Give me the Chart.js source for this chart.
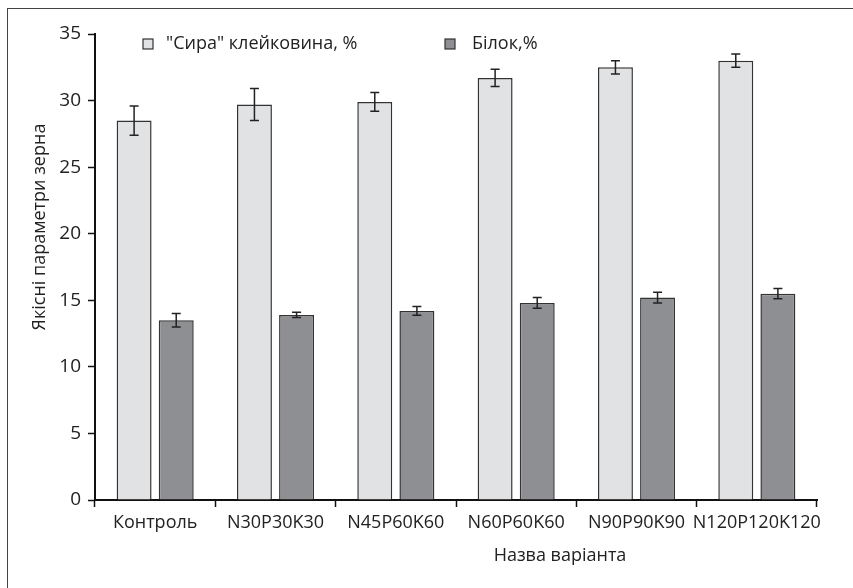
<!DOCTYPE html>
<html lang="uk">
<head>
<meta charset="UTF-8">
<title>Якісні параметри зерна</title>
<script src="https://cdn.jsdelivr.net/npm/chart.js"></script>
<style>
    body { margin: 0; padding: 0; background: #fff; }
    .frame {
        position: absolute;
        left: 7px; top: 8px;
        width: 850px; height: 600px;
        border: 1px solid #444;
    }
    #chart { position: absolute; left: 0; top: 0; }
</style>
</head>
<body>
<div class="frame"></div>
<canvas id="chart" width="853" height="588"></canvas>
<script>
const categories = ['Контроль', 'N30P30K30', 'N45P60K60', 'N60P60K60', 'N90P90K90', 'N120P120K120'];
const glutenValues = [28.5, 29.7, 29.9, 31.7, 32.5, 33.0];
const glutenErrors = [1.1, 1.2, 0.7, 0.65, 0.5, 0.5];
const proteinValues = [13.5, 13.9, 14.2, 14.8, 15.2, 15.5];
const proteinErrors = [0.5, 0.2, 0.33, 0.4, 0.4, 0.38];
const seriesNames = ['"Сира" клейковина, %', 'Білок,%'];
const yTitle = 'Якісні параметри зерна';
const xTitle = 'Назва варіанта';

const FONT = "'Open Sans', sans-serif";
const lightFill = '#e1e2e4';
const darkFill = '#8e8f93';
const edge = '#333333';

const errorBars = {
    id: 'errorBars',
    afterDatasetsDraw(chart) {
        const ctx = chart.ctx;
        const y = chart.scales.y;
        ctx.save();
        ctx.strokeStyle = '#222';
        ctx.lineWidth = 1.5;
        chart.data.datasets.forEach((ds, i) => {
            const meta = chart.getDatasetMeta(i);
            meta.data.forEach((bar, j) => {
                const v = ds.data[j], e = ds.errors[j];
                const top = y.getPixelForValue(v + e);
                const bot = y.getPixelForValue(v - e);
                ctx.beginPath();
                ctx.moveTo(bar.x, top); ctx.lineTo(bar.x, bot);
                ctx.moveTo(bar.x - 4.5, top); ctx.lineTo(bar.x + 4.5, top);
                ctx.moveTo(bar.x - 4.5, bot); ctx.lineTo(bar.x + 4.5, bot);
                ctx.stroke();
            });
        });
        ctx.restore();
    }
};

// legend inside the plot and the two axis titles
const extras = {
    id: 'extras',
    afterDraw(chart) {
        const ctx = chart.ctx;
        ctx.save();
        ctx.font = '18px ' + FONT;
        ctx.fillStyle = '#222';
        ctx.textBaseline = 'middle';
        const legend = [[143, 166, lightFill], [445, 472, darkFill]];
        legend.forEach((l, i) => {
            ctx.fillStyle = l[2];
            ctx.fillRect(l[0], 39, 10, 10);
            ctx.strokeStyle = edge;
            ctx.lineWidth = 1.2;
            ctx.strokeRect(l[0], 39, 10, 10);
            ctx.fillStyle = '#222';
            ctx.textAlign = 'left';
            ctx.fillText(chart.data.datasets[i].label, l[1], 44);
        });
        ctx.textAlign = 'center';
        ctx.fillText(xTitle, 560, 556);
        ctx.translate(40, 227);
        ctx.rotate(-Math.PI / 2);
        ctx.fillText(yTitle, 0, 0);
        ctx.restore();
    }
};

new Chart(document.getElementById('chart'), {
    type: 'bar',
    data: {
        labels: categories,
        datasets: [
            { label: seriesNames[0], data: glutenValues, errors: glutenErrors,
              backgroundColor: lightFill, borderColor: edge, borderWidth: 1.5 },
            { label: seriesNames[1], data: proteinValues, errors: proteinErrors,
              backgroundColor: darkFill, borderColor: edge, borderWidth: 1.5 }
        ]
    },
    options: {
        responsive: false,
        animation: false,
        categoryPercentage: 0.7,
        barPercentage: 0.83,
        layout: { padding: { left: 55, top: 34, right: 36, bottom: 0 } },
        plugins: { legend: { display: false }, tooltip: { enabled: false } },
        scales: {
            x: {
                grid: { offset: true, drawOnChartArea: false, tickLength: 7, tickColor: '#111', tickWidth: 1.5 },
                border: { color: '#111', width: 2 },
                ticks: { color: '#222', font: { family: FONT, size: 18 }, padding: 5, maxRotation: 0, autoSkip: false },
                afterFit: s => { s.height = 88; }
            },
            y: {
                min: 0, max: 35,
                ticks: { stepSize: 5, color: '#222', font: { family: FONT, size: 19 }, padding: 7 },
                grid: { drawOnChartArea: false, tickLength: 7, tickColor: '#111', tickWidth: 1.5 },
                border: { color: '#111', width: 2 },
                afterFit: s => { s.width = 40; }
            }
        }
    },
    plugins: [errorBars, extras]
});
</script>
</body>
</html>
